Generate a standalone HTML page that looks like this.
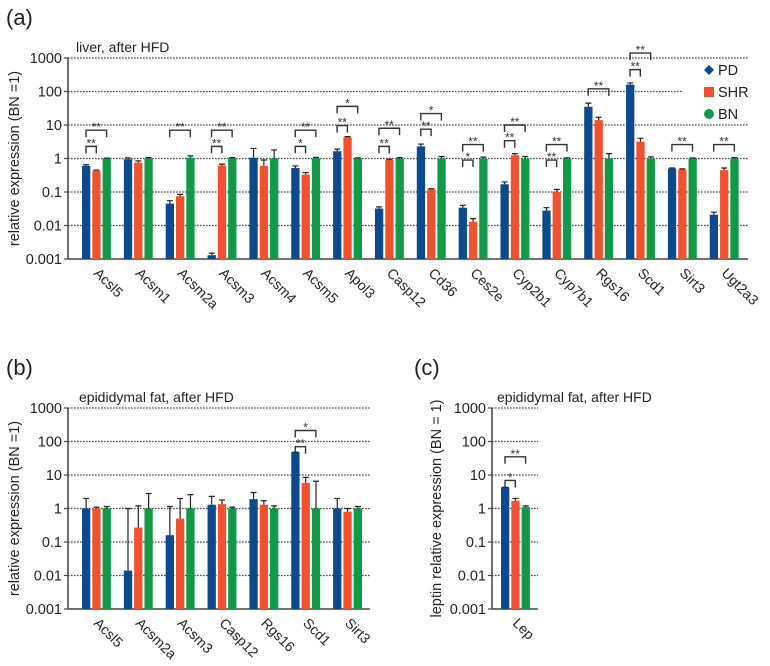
<!DOCTYPE html>
<html><head><meta charset="utf-8"><style>
body{margin:0;background:#fff}
svg{display:block;font-family:"Liberation Sans",sans-serif}
</style></head><body>
<svg id="fig" width="770" height="666" viewBox="0 0 770 666" xmlns="http://www.w3.org/2000/svg"></svg>
<script>
// ---- Panel (a) data: liver ----
const catsA = ["Acsl5","Acsm1","Acsm2a","Acsm3","Acsm4","Acsm5","Apol3","Casp12","Cd36","Ces2e","Cyp2b1","Cyp7b1","Rgs16","Scd1","Sirt3","Ugt2a3"];
const pdA  = [0.6,0.95,0.045,0.0013,1.05,0.52,1.65,0.032,2.3,0.034,0.17,0.028,35,160,0.5,0.021];
const pdAErr = [0.65,1.05,0.055,0.0015,2.0,0.6,1.9,0.036,2.7,0.04,0.2,0.034,45,180,0.52,0.025];
const shrA = [0.43,0.75,0.075,0.62,0.6,0.33,4.3,0.9,0.12,0.013,1.25,0.1,14,3.2,0.47,0.45];
const shrAErr = [0.45,0.85,0.085,0.68,0.9,0.38,4.5,0.95,0.125,0.016,1.4,0.12,17,4.0,0.49,0.52];
const bnA  = [1,1,1.05,1.02,1,1.02,1,1,1,1,1,1,1,1,1,1];
const bnAErr = [1.03,1.06,1.2,1.06,1.8,1.08,1.05,1.06,1.15,1.1,1.15,1.05,1.4,1.12,1.04,1.06];
// brackets: [groupIndex, fromSeries, toSeries, yValue, label]
const sigA = [[0,0,1,2.3,"**"],[0,0,2,7,"**"],[2,0,2,7,"**"],[3,0,1,2.3,"**"],[3,0,2,7,"**"],
 [5,0,1,2.3,"*"],[5,0,2,7,"**"],[6,0,1,9.6,"**"],[6,0,2,36,"*"],[7,0,1,2.3,"**"],[7,0,2,8,"**"],
 [8,0,1,7.5,"**"],[8,0,2,22,"*"],[9,0,1,0.9,"*"],[9,0,2,2.6,"**"],[10,0,1,3.4,"**"],[10,0,2,10,"**"],
 [11,0,1,0.9,"**"],[11,0,2,2.6,"**"],[12,0,2,120,"**"],[13,0,1,450,"**"],[13,0,2,1400,"**"],
 [14,0,2,2.6,"**"],[15,0,2,2.6,"**"]];
// ---- Panel (b) data: epididymal fat ----
const catsB = ["Acsl5","Acsm2a","Acsm3","Casp12","Rgs16","Scd1","Sirt3"];
const pdB  = [1,0.014,0.16,1.3,1.9,48,1];
const pdBErr = [2,1,1.15,2.3,3,48,2];
const shrB = [1,0.27,0.5,1.35,1.3,5.8,0.8];
const shrBErr = [1.1,1.2,2,1.8,1.7,8.5,1];
const bnB  = [1,1,1,1,1,1,1];
const bnBErr = [1.15,2.8,2.6,1.1,1.2,6.5,1.15];
const sigB = [[5,0,1,70,"**"],[5,0,2,213,"*"]];
// ---- Panel (c) data: leptin ----
const catsC = ["Lep"];
const pdC = [4.3]; const pdCErr = [4.3];
const shrC = [1.7]; const shrCErr = [2.0];
const bnC = [1.1]; const bnCErr = [1.2];
const sigC = [[0,0,1,6.9,"*"],[0,0,2,35,"**"]];
const yTicks = [0.001,0.01,0.1,1,10,100,1000];
const yTickLabels = ["0.001","0.01","0.1","1","10","100","1000"];

const COLORS = ["#0b4a8e","#f4502b","#0f9a48"];
const NS = "http://www.w3.org/2000/svg";
const svg = document.getElementById("fig");
function mk(tag, attrs, parent){const e=document.createElementNS(NS,tag);for(const k in attrs)e.setAttribute(k,attrs[k]);(parent||svg).appendChild(e);return e;}

function panel(cfg){
  const g = mk("g",{});
  
  
  const y = v => cfg.bottom - (Math.log10(v)+3)*cfg.dec;
  const gx = i => cfg.x0 + i*cfg.gstep;
  yTicks.forEach((t,k)=>{
    if(k>0){
      const end = (cfg.gridEnd && cfg.gridEnd[k]) ? cfg.gridEnd[k] : cfg.xEnd;
      const l = mk("line",{x1:cfg.axisX,x2:end,y1:y(t),y2:y(t),stroke:"#444","stroke-width":1.3,"stroke-dasharray":"1.6,1.4"},g);
      
      
    }
    const tk = mk("line",{x1:cfg.axisX-4,x2:cfg.axisX,y1:y(t),y2:y(t),stroke:"#444","stroke-width":1.2},g);
    
    
    const tl = mk("text",{x:cfg.axisX-6,y:y(t)+5,"text-anchor":"end","font-size":14.5,fill:"#222"},g);
    tl.textContent = yTickLabels[k];
    
    
  });
  const ax = mk("line",{x1:cfg.axisX,x2:cfg.axisX,y1:y(1000),y2:cfg.bottom,stroke:"#444","stroke-width":1.5},g);
  
  
  const bx = mk("line",{x1:cfg.axisX,x2:cfg.xEnd,y1:cfg.bottom,y2:cfg.bottom,stroke:"#444","stroke-width":1.5},g);
  
  
  cfg.cats.forEach((c,i)=>{
    [cfg.s[0],cfg.s[1],cfg.s[2]].forEach((arr,s)=>{
      const bxl = gx(i)+s*10.3;
      const top = y(arr[i]);
      const r = mk("rect",{x:bxl,y:top,width:8.3,height:cfg.bottom-top,fill:COLORS[s]},g);
      
      
      const eh = cfg.e[s][i];
      if(eh > arr[i]*1.001){
        const cx = bxl+4.15;
        const el = mk("path",{d:`M${cx},${top}V${y(eh)}M${cx-3},${y(eh)}H${cx+3}`,stroke:"#222","stroke-width":1.2,fill:"none"},g);
        
        
      } else {
        const el = mk("line",{x1:bxl+1,x2:bxl+7.3,y1:top,y2:top,stroke:"#222","stroke-width":1.2},g);
        
        
      }
    });
    const lx = gx(i)+11, ly = cfg.bottom+15;
    const t = mk("text",{x:lx,y:ly,"font-size":14,fill:"#222",transform:`rotate(45 ${lx} ${ly})`},g);
    t.textContent = c;
    
    
  });
  cfg.sig.forEach(b=>{
    const x1 = gx(b[0])+b[1]*10.3+4, x2 = gx(b[0])+b[2]*10.3+4, yy = y(b[3]);
    const p = mk("path",{d:`M${x1},${yy+7}V${yy}H${x2}V${yy+7}`,stroke:"#333","stroke-width":1.4,fill:"none"},g);
    
    
    const t = mk("text",{x:(x1+x2)/2,y:yy+1,"text-anchor":"middle","font-size":12,fill:"#333"},g);
    t.textContent = b[4];
    
    
  });
  const tt = mk("text",{x:cfg.titleX,y:y(1000)-6,"font-size":14,fill:"#222"},g);
  tt.textContent = cfg.title;
  
  
  const yc = (y(1000)+cfg.bottom)/2;
  const yt = mk("text",{x:cfg.ytX,y:yc,"text-anchor":"middle","font-size":14.5,fill:"#222",transform:`rotate(-90 ${cfg.ytX} ${yc})`},g);
  yt.textContent = cfg.ytitle;
  
  
  const pl = mk("text",{x:cfg.letterX,y:cfg.letterY,"font-size":22,fill:"#222"},g);
  pl.textContent = cfg.letter;
  
  
}

panel({name:"panel-a",cats:catsA,s:[pdA,shrA,bnA],e:[pdAErr,shrAErr,bnAErr],sig:sigA,
  x0:82,gstep:41.85,axisX:68,xEnd:748,bottom:259,dec:33.5,gridEnd:{5:682},
  title:"liver, after HFD",titleX:76,ytitle:"relative expression (BN =1)",ytX:19,letter:"(a)",letterX:6,letterY:25});
panel({name:"panel-b",cats:catsB,s:[pdB,shrB,bnB],e:[pdBErr,shrBErr,bnBErr],sig:sigB,
  x0:82,gstep:41.85,axisX:68,xEnd:370,bottom:609,dec:33.5,
  title:"epididymal fat, after HFD",titleX:79,ytitle:"relative expression (BN =1)",ytX:19,letter:"(b)",letterX:6,letterY:375});
panel({name:"panel-c",cats:catsC,s:[pdC,shrC,bnC],e:[pdCErr,shrCErr,bnCErr],sig:sigC,
  x0:501,gstep:41.85,axisX:492,xEnd:538,bottom:609,dec:33.5,
  title:"epididymal fat, after HFD",titleX:497,ytitle:"leptin relative expression (BN = 1)",ytX:441,letter:"(c)",letterX:414,letterY:375});

const leg = mk("g",{});


const legNames = ["PD","SHR","BN"];
legNames.forEach((n,k)=>{
  const cy = 70+k*22;
  let m;
  if(k===0) m = mk("path",{d:`M709,${cy-5}L714,${cy}L709,${cy+5}L704,${cy}Z`,fill:COLORS[0]},leg);
  else if(k===1) m = mk("rect",{x:704,y:cy-5,width:10,height:10,fill:COLORS[1]},leg);
  else m = mk("circle",{cx:709,cy:cy,r:5,fill:COLORS[2]},leg);
  
  
  const t = mk("text",{x:718,y:cy+5,"font-size":14.5,fill:"#222"},leg);
  t.textContent = n;
  
  
});
</script>
</body></html>
